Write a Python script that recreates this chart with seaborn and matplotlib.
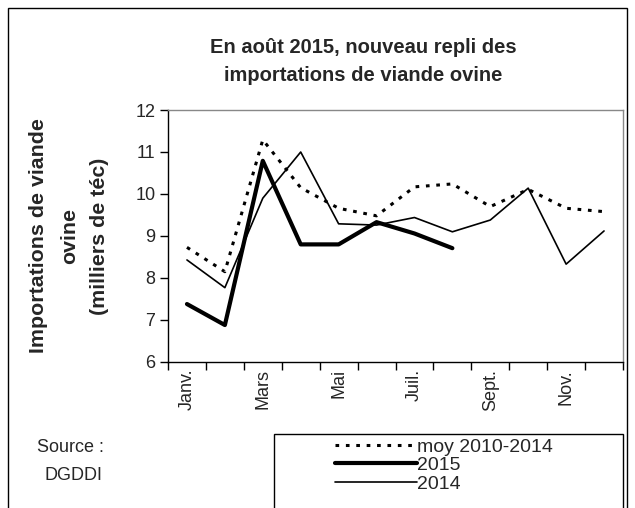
import seaborn as sns
import pandas as pd
import matplotlib.pyplot as plt
from matplotlib.patches import Rectangle

# months (ticks labelled every other month)
mois = ['Janv.', 'Févr.', 'Mars', 'Avr.', 'Mai', 'Juin',
        'Juil.', 'Août', 'Sept.', 'Oct.', 'Nov.', 'Déc.']
moy_2010_2014 = [8.73, 8.15, 11.29, 10.15, 9.66, 9.48, 10.17, 10.24, 9.70, 10.11, 9.66, 9.58]
annee_2015 = [7.38, 6.88, 10.79, 8.80, 8.80, 9.33, 9.06, 8.71]
annee_2014 = [8.43, 7.77, 9.90, 11.00, 9.29, 9.26, 9.44, 9.10, 9.38, 10.14, 8.33, 9.12]

sns.set_style('white')
plt.rcParams['font.family'] = ['Liberation Sans', 'DejaVu Sans']

fig = plt.figure(figsize=(6.35, 5.08), dpi=100)
ax = fig.add_axes([168/635, 1-362/508, (623-168)/635, (362-110)/508])

df14 = pd.DataFrame({'mois': range(12), 'val': annee_2014})
dfm = pd.DataFrame({'mois': range(12), 'val': moy_2010_2014})
df15 = pd.DataFrame({'mois': range(len(annee_2015)), 'val': annee_2015})

sns.lineplot(data=dfm, x='mois', y='val', ax=ax, color='black', lw=2.2,
             linestyle=(0, (1.2, 2.2)), label='moy 2010-2014')
sns.lineplot(data=df15, x='mois', y='val', ax=ax, color='black', lw=3,
             label='2015')
sns.lineplot(data=df14, x='mois', y='val', ax=ax, color='black', lw=1.2,
             label='2014')

ax.set_xlim(-0.5, 11.5)
ax.set_ylim(6, 12)
ax.set_yticks(range(6, 13))
ax.set_xticks(range(0, 12, 2))
ax.set_xticklabels(mois[::2], rotation=90)
ax.set_xticks([i - 0.5 for i in range(13)], minor=True)
ax.tick_params(axis='x', which='major', length=0, labelsize=13, pad=5)
ax.tick_params(axis='x', which='minor', length=6, width=1, color='black', direction='out', bottom=True)
ax.tick_params(axis='y', length=6, width=1, color='black', direction='out', left=True, labelsize=13, pad=3)
ax.set_xlabel('')
ax.set_ylabel('Importations de viande\novine\n(milliers de téc)', fontsize=15.4,
              fontweight='bold', linespacing=1.75, labelpad=19)
for s in ['left', 'bottom']:
    ax.spines[s].set_color('black')
    ax.spines[s].set_linewidth(1)
for s in ['top', 'right']:
    ax.spines[s].set_color('#888888')
    ax.spines[s].set_linewidth(1)

ax.set_title('En août 2015, nouveau repli des\nimportations de viande ovine',
             fontsize=14.5, fontweight='bold', pad=21, linespacing=1.6, x=0.43)

handles, labels = ax.get_legend_handles_labels()
ax.get_legend().remove()
fig.legend(handles, labels, loc='upper left', bbox_to_anchor=(335/635, 1-438/508),
           frameon=False, fontsize=14, handlelength=4.2, handletextpad=0,
           labelspacing=0.05, borderpad=0, borderaxespad=0)

# outer frame and legend box
fig.add_artist(Rectangle((8/635, -0.1), (627-8)/635, 1.1-8/508, transform=fig.transFigure,
                         fill=False, edgecolor='black', lw=1))
fig.add_artist(Rectangle((274/635, -0.1), (623-274)/635, 0.1+1-434/508, transform=fig.transFigure,
                         fill=False, edgecolor='black', lw=1))

fig.text(37/635, 1-448/508, 'Source :', fontsize=13, va='center')
fig.text(45/635, 1-476/508, 'DGDDI', fontsize=13, va='center')

fig.savefig('out.png', dpi=100)
